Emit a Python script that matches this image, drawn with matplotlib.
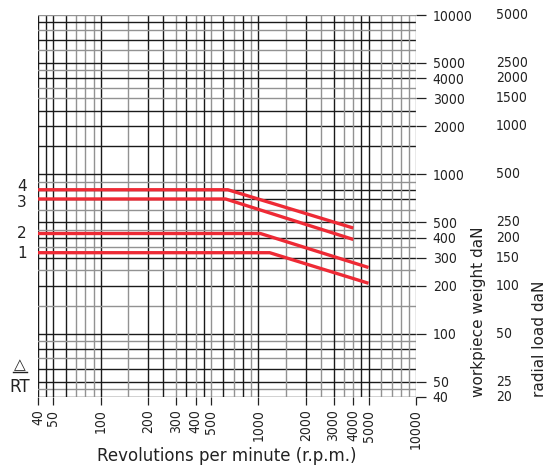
import matplotlib.pyplot as plt
from matplotlib.lines import Line2D

plt.rcParams['font.family'] = ['DejaVu Sans']

# grid values (both axes use the same scale steps)
grid_vals = [40, 45, 50, 60, 70, 80, 90, 100, 150, 200, 250, 300, 350, 400, 450,
             500, 600, 700, 800, 900, 1000, 1500, 2000, 2500, 3000, 3500, 4000,
             4500, 5000, 6000, 7000, 8000, 9000, 10000]
x_dark = [40, 45, 50, 60, 100, 200, 250, 350, 450, 600, 800, 1000, 2000, 3000, 4500, 5000]
y_dark = [40, 50, 60, 80, 100, 200, 300, 400, 500, 700, 800, 1000, 1500, 2000, 2500, 4000, 5000, 7000, 9000]

x_ticks = [40, 50, 100, 200, 300, 400, 500, 1000, 2000, 3000, 4000, 5000, 10000]
y_ticks = [40, 50, 100, 200, 300, 400, 500, 1000, 2000, 3000, 4000, 5000, 10000]
radial_labels = ["20", "25", "50", "100", "150", "200", "250", "500", "1000", "1500", "2000", "2500", "5000"]

# curves: rpm, workpiece weight
curves = {
    "4": ([40, 640, 4000], [800, 800, 460]),
    "3": ([40, 620, 4000], [700, 700, 390]),
    "2": ([40, 1030, 5000], [425, 425, 260]),
    "1": ([40, 1180, 5000], [322, 322, 207]),
}
label_y = {"4": 835, "3": 665, "2": 425, "1": 318}

fig = plt.figure(figsize=(5.5, 4.66), dpi=100)
ax = fig.add_axes([38 / 550, 1 - 397 / 466, 378 / 550, 382 / 466])
ax.set_xscale("log")
ax.set_yscale("log")
ax.set_xlim(40, 10000)
ax.set_ylim(40, 10000)

for v in grid_vals:
    c = "#1a1a1a" if v in x_dark else "#929292"
    ax.axvline(v, color=c, lw=1.0, zorder=1)
    c = "#1a1a1a" if v in y_dark else "#929292"
    ax.axhline(v, color=c, lw=1.0, zorder=1)

for k, (xs, ys) in curves.items():
    ax.plot(xs, ys, color="#ee2a35", lw=2.4, zorder=3, solid_capstyle="butt")
    ax.text(-0.042, label_y[k], k, transform=ax.get_yaxis_transform(),
            ha="center", va="center", fontsize=11, color="#222222")

for s in ax.spines.values():
    s.set_visible(False)

ax.xaxis.set_minor_locator(plt.NullLocator())
ax.yaxis.set_minor_locator(plt.NullLocator())
ax.set_xticks(x_ticks)
ax.set_xticklabels([str(v) for v in x_ticks], rotation=90)
ax.set_yticks(y_ticks)
ax.set_yticklabels([str(v) for v in y_ticks])
ax.yaxis.tick_right()
ax.tick_params(axis="y", which="both", length=7, width=0.9, pad=5,
               colors="#222222", left=False)
ax.tick_params(axis="x", which="both", length=6, width=0.9, pad=3,
               colors="#222222", top=False)
for t in ax.get_xticklabels() + ax.get_yticklabels():
    t.set_fontstretch("condensed")
    t.set_fontsize(10)

# second column: radial load
for v, lab in zip(y_ticks, radial_labels):
    ax.text(1 + 80 / 378, v, lab, transform=ax.get_yaxis_transform(),
            ha="left", va="center", fontsize=10, fontstretch="condensed",
            color="#222222")

ax.text(1 + 62 / 378, 40, "workpiece weight daN", transform=ax.get_yaxis_transform(),
        rotation=90, ha="center", va="bottom", fontsize=11, color="#222222")
ax.text(1 + 124 / 378, 40, "radial load daN", transform=ax.get_yaxis_transform(),
        rotation=90, ha="center", va="bottom", fontsize=11, color="#222222")

fig.text(227 / 550, 1 - 456 / 466, "Revolutions per minute (r.p.m.)",
         ha="center", va="center", fontsize=12, color="#222222")

# RT symbol
fig.text(20 / 550, 1 - 387 / 466, "RT", ha="center", va="center", fontsize=12,
         color="#222222")
fig.text(20 / 550, 1 - 365 / 466, "△", ha="center", va="center", fontsize=11,
         color="#222222")
fig.add_artist(Line2D([13 / 550, 27 / 550], [1 - 372 / 466, 1 - 372 / 466],
                      color="#222222", lw=1.0))

fig.savefig("out.png", dpi=100)
